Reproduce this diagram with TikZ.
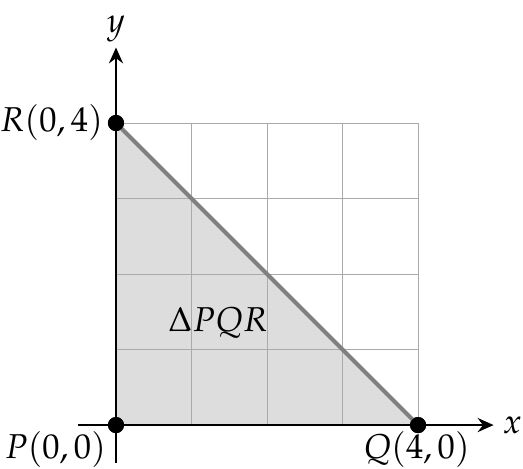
\documentclass[tikz,border=0pt]{standalone}
\usepackage{xcolor}
\usepackage{mathpazo}
\usepackage{tikz}
\usetikzlibrary{positioning, arrows.meta}
\definecolor{shadegray}{HTML}{DDDDDD}
\definecolor{gridgray}{HTML}{AAAAAA}
\definecolor{edgegray}{HTML}{808080}

\tikzset{
  dot/.style={circle, fill=black, inner sep=0pt, minimum size=0.32cm},
  axis/.style={line width=1.1pt, -{Stealth[length=9pt, width=8pt, inset=3pt]}},
  lbl/.style={font=\fontsize{19.5}{23}\selectfont, inner sep=2pt}
}

\begin{document}
\begin{tikzpicture}[x=1.5cm, y=1.5cm]
    \useasboundingbox (-1.536,-0.570) rectangle (5.39,5.629);
    % shaded triangle and grid
    \fill[shadegray] (0,0) -- (4,0) -- (0,4) -- cycle;
    \draw[gridgray, line width=0.5pt, step=1.5cm] (0,0) grid (4,4);
    % axes
    \coordinate (xs) at (-0.5,0);
    \coordinate (xe) at (5,0);
    \coordinate (ys) at (0,-0.5);
    \coordinate (ye) at (0,5);
    \draw[axis] (xs) -- (xe);
    \draw[axis] (ys) -- (ye);
    \node[lbl, right=3pt of xe] (xlab) {$x$};
    \node[lbl, above=1pt of ye] (ylab) {$y$};
    % vertices
    \node[dot] (P) at (0,0) {};
    \node[dot] (Q) at (4,0) {};
    \node[dot] (R) at (0,4) {};
    \draw[edgegray, line width=2.3pt] (R.center) -- (Q.center);
    \draw[line width=1.3pt] (P.center) -- (R.center);
    \draw[line width=1.3pt] (P.center) -- (Q.center);
    \node[dot] at (P) {};
    \node[dot] at (Q) {};
    \node[dot] at (R) {};
    \node[lbl, anchor=east] (Rlab) at (-0.12,4) {$R(0,4)$};
    \node[lbl, anchor=north east] (Plab) at (-0.08,-0.03) {$P(0,0)$};
    \node[lbl, anchor=north] (Qlab) at (3.98,-0.03) {$Q(4,0)$};
    \node[lbl] (tri) at (1.35,1.36) {$\Delta PQR$};
  \end{tikzpicture}
\end{document}
